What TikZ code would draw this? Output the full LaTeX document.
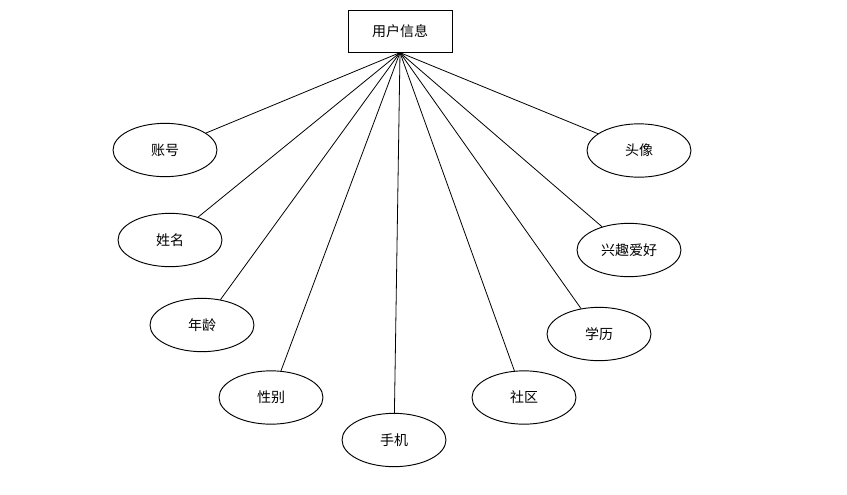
\documentclass[tikz,border=0pt]{standalone}
\usepackage{fontspec}
\newfontfamily\cjk{Noto Sans CJK SC}
\usetikzlibrary{shapes.geometric}
\tikzset{
  entbox/.style ={draw, minimum width=78pt, minimum height=31pt,
                  inner sep=0pt, line width=0.7pt,
                  font=\cjk\fontsize{10.5}{12}\selectfont},
  attrell/.style={draw, ellipse, minimum width=78pt, minimum height=40pt,
                  inner sep=0pt, line width=0.7pt,
                  font=\cjk\fontsize{10.5}{12}\selectfont},
  conn/.style   ={line width=0.6pt},
}

\begin{document}
\begin{tikzpicture}[x=0.75pt,y=-0.75pt]
  \useasboundingbox (0,0) rectangle (847,494);
  \node[entbox] (user) at (400,31.5) {用户信息};
  \coordinate (hub) at (user.south);
  % attributes, left side
  \node[attrell] (acct)   at (165,150)   {账号};
  \node[attrell] (name)   at (170,240)   {姓名};
  \node[attrell] (age)    at (202,325)   {年龄};
  \node[attrell] (gender) at (271,397.5) {性别};
  \node[attrell] (phone)  at (394,440)   {手机};
  % attributes, right side
  \node[attrell] (comm)   at (524,397.5) {社区};
  \node[attrell] (edu)    at (599,334)   {学历};
  \node[attrell] (hobby)  at (629,250)   {兴趣爱好};
  \node[attrell] (avatar) at (639,150.5) {头像};
  \foreach \n in {acct,name,age,gender,phone,comm,edu,hobby,avatar}
    \draw[conn] (hub) -- (\n);
\end{tikzpicture}
\end{document}
